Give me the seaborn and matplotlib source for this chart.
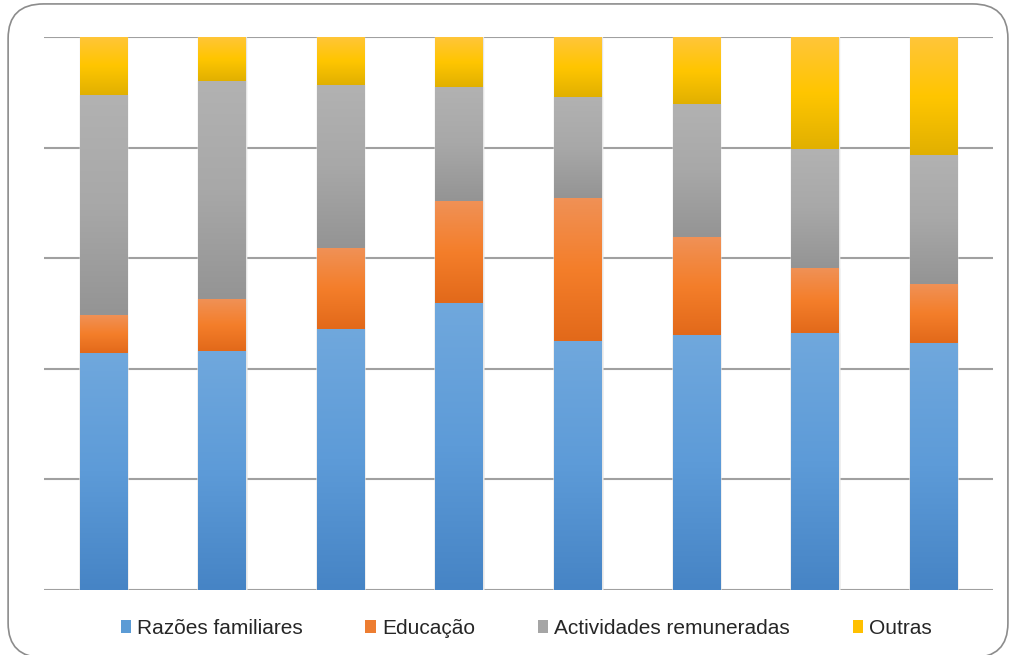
import numpy as np
import pandas as pd
import matplotlib
matplotlib.use("Agg")
import matplotlib.pyplot as plt
from matplotlib.colors import LinearSegmentedColormap
from matplotlib.patches import FancyBboxPatch
import seaborn as sns

# data (percent of each bar)
categorias = ['1', '2', '3', '4', '5', '6', '7', '8']
familiares = [42.9, 43.2, 47.2, 51.9, 45.0, 46.1, 46.5, 44.7]
educacao = [6.8, 9.4, 14.6, 18.4, 25.9, 17.7, 11.7, 10.6]
actividades = [39.8, 39.4, 29.5, 20.7, 18.3, 24.1, 21.5, 23.4]
outras = [10.5, 8.0, 8.7, 9.0, 10.8, 12.1, 20.3, 21.3]

series = ['Razões familiares', 'Educação', 'Actividades remuneradas', 'Outras']
cores = ['#5B9BD5', '#ED7D31', '#A5A5A5', '#FFC000']
# top -> bottom gradient colours for each segment
gradientes = [
    ['#70A8DD', '#5D9BD8', '#4684C5'],
    ['#F09156', '#F47E2A', '#E2691A'],
    ['#B2B2B2', '#A8A8A8', '#949494'],
    ['#FFC53A', '#FFC600', '#E1B000'],
]

df = pd.DataFrame({'cat': categorias, series[0]: familiares, series[1]: educacao,
                   series[2]: actividades, series[3]: outras})
cum = df[series].cumsum(axis=1)

sns.set_style('white')
fig = plt.figure(figsize=(10.14, 6.55), dpi=100)
ax = fig.add_axes([0.0434, 0.0992, 0.9359, 0.8443])

# draw cumulative bars from the top series down so each covers the one behind
patch_groups = {}
for i in range(len(series) - 1, -1, -1):
    n_before = len(ax.patches)
    sns.barplot(x=df['cat'], y=cum[series[i]], color=cores[i], width=0.4,
                saturation=1, edgecolor='#E6E6E6', linewidth=1, ax=ax, zorder=3)
    patch_groups[i] = ax.patches[n_before:]

ax.set_xlim(-0.5, len(categorias) - 0.5)
ax.set_ylim(0, 100)
ax.set_yticks([0, 20, 40, 60, 80, 100])
ax.grid(axis='y', color='#A0A0A0', linewidth=1.5, zorder=0)
ax.set_axisbelow(True)
ax.tick_params(left=False, bottom=False, labelleft=False, labelbottom=False)
ax.set_xlabel('')
ax.set_ylabel('')
for s in ax.spines.values():
    s.set_visible(False)

# gradient fill over each segment
for i in range(len(series)):
    cmap = LinearSegmentedColormap.from_list('g%d' % i, gradientes[i][::-1])
    grad = np.linspace(0, 1, 256).reshape(-1, 1)
    for k, p in enumerate(patch_groups[i]):
        x0 = p.get_x()
        w = p.get_width()
        top = cum[series[i]].iloc[k]
        bot = cum[series[i - 1]].iloc[k] if i > 0 else 0
        im = ax.imshow(grad, cmap=cmap, origin='lower', aspect='auto',
                       extent=[x0, x0 + w, bot, top], zorder=4)
        im.set_clip_path(p)
ax.set_xlim(-0.5, len(categorias) - 0.5)
ax.set_ylim(0, 100)

# legend
handles = [plt.Rectangle((0, 0), 1, 1, facecolor=c, edgecolor='none') for c in cores]
leg = fig.legend(handles, series, loc='center', bbox_to_anchor=(0.519, 0.041), ncol=4,
                 frameon=False, prop={'family': 'Liberation Sans', 'size': 15},
                 handlelength=0.5, handleheight=0.6, handletextpad=0.3,
                 columnspacing=3.0)
for t in leg.get_texts():
    t.set_color('#262626')

# rounded outer frame
frame = FancyBboxPatch((0.008, -0.004), 0.986, 0.998, transform=fig.transFigure,
                       boxstyle='round,pad=0,rounding_size=0.035',
                       facecolor='none', edgecolor='#8C8C8C', linewidth=1.2,
                       mutation_aspect=1.5)
fig.patches.append(frame)

fig.savefig('out.png', dpi=100)
